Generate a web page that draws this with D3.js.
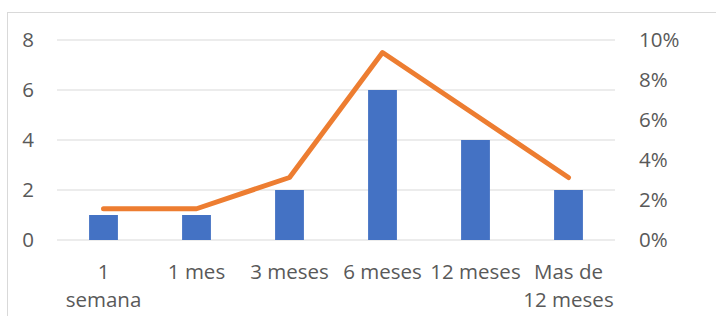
<!DOCTYPE html>
<html>
<head>
<meta charset="utf-8">
<script src="https://cdn.jsdelivr.net/npm/d3@7"></script>
<style>
  body { margin: 0; background: #fff; }
  svg { display: block; }
</style>
</head>
<body>
<svg id="chart" width="716" height="316"></svg>
<script>
// data
var categories = ["1 semana", "1 mes", "3 meses", "6 meses", "12 meses", "Mas de 12 meses"];
var categoryLines = [["1", "semana"], ["1 mes"], ["3 meses"], ["6 meses"], ["12 meses"], ["Mas de", "12 meses"]];
var counts = [1, 1, 2, 6, 4, 2];
var percents = [0.015625, 0.015625, 0.03125, 0.09375, 0.0625, 0.03125];
var leftTicks = [0, 2, 4, 6, 8];
var rightTicks = [0, 0.02, 0.04, 0.06, 0.08, 0.10];

var svg = d3.select("#chart");
var margin = { top: 40, right: 101, bottom: 76, left: 57 };
var width = svg.attr("width") - margin.left - margin.right;
var height = svg.attr("height") - margin.top - margin.bottom;
var textColor = "#595959";
var font = "'Open Sans', sans-serif";
var fontSize = "20.5px ";

// chart area border
svg.append("rect")
    .attr("x", 7.5).attr("y", 12.5)
    .attr("width", 800).attr("height", 400)
    .attr("fill", "none")
    .attr("stroke", "#d9d9d9");

var g = svg.append("g")
    .attr("transform", "translate(" + margin.left + "," + margin.top + ")");

var x = d3.scaleBand().domain(categories).range([0, width]).paddingInner(0.69).paddingOuter(0.345);
var y = d3.scaleLinear().domain([0, 8]).range([height, 0]);
var y2 = d3.scaleLinear().domain([0, 0.10]).range([height, 0]);

// gridlines
g.selectAll(".grid")
    .data(leftTicks)
    .enter().append("line")
    .attr("x1", 0).attr("x2", width)
    .attr("y1", function (d) { return y(d); })
    .attr("y2", function (d) { return y(d); })
    .attr("stroke", "#d9d9d9")
    .attr("stroke-width", 1);

// bars
g.selectAll(".bar")
    .data(counts)
    .enter().append("rect")
    .attr("class", "bar")
    .attr("x", function (d, i) { return x(categories[i]); })
    .attr("y", function (d) { return y(d); })
    .attr("width", x.bandwidth())
    .attr("height", function (d) { return height - y(d); })
    .attr("fill", "#4472c4");

// line
var line = d3.line()
    .x(function (d, i) { return x(categories[i]) + x.bandwidth() / 2; })
    .y(function (d) { return y2(d); });

g.append("path")
    .datum(percents)
    .attr("d", line)
    .attr("fill", "none")
    .attr("stroke", "#ed7d31")
    .attr("stroke-width", 5)
    .attr("stroke-linecap", "round")
    .attr("stroke-linejoin", "round");

// left axis
var yAxis = g.append("g")
    .call(d3.axisLeft(y).tickValues(leftTicks).tickSize(0).tickPadding(23));
yAxis.select(".domain").remove();
yAxis.selectAll("text")
    .style("font", fontSize + font)
    .attr("fill", textColor);

// right axis
var y2Axis = g.append("g")
    .attr("transform", "translate(" + width + ",0)")
    .call(d3.axisRight(y2).tickValues(rightTicks).tickSize(0).tickPadding(24).tickFormat(d3.format(".0%")));
y2Axis.select(".domain").remove();
y2Axis.selectAll("text")
    .style("font", fontSize + font)
    .attr("fill", textColor);

// bottom axis with wrapped labels
var xAxis = g.append("g")
    .attr("transform", "translate(0," + height + ")")
    .call(d3.axisBottom(x).tickSize(0).tickFormat(""));
xAxis.select(".domain").remove();
xAxis.selectAll(".tick").each(function (d, i) {
    var t = d3.select(this).append("text")
        .attr("text-anchor", "middle")
        .attr("fill", textColor)
        .style("font", fontSize + font);
    categoryLines[i].forEach(function (s, j) {
        t.append("tspan")
            .attr("x", 0)
            .attr("y", 39 + j * 28)
            .text(s);
    });
});
</script>
</body>
</html>
